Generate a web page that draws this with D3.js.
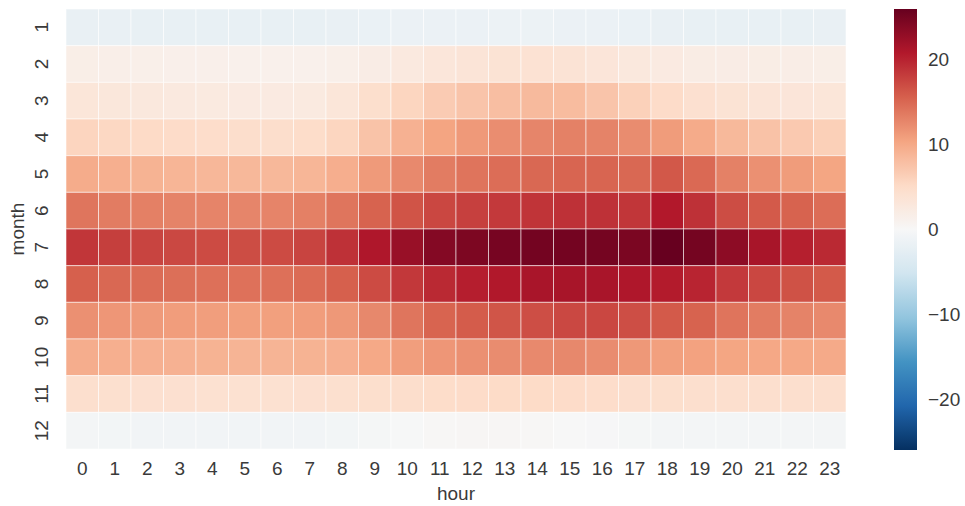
<!DOCTYPE html>
<html>
<head>
<meta charset="utf-8">
<script src="https://cdn.jsdelivr.net/npm/d3@7"></script>
<style>
  html, body { margin: 0; padding: 0; background: #fff; }
  text { font-family: "Liberation Sans", Arial, Helvetica, sans-serif; }
</style>
</head>
<body>
<svg id="chart" width="965" height="506"></svg>
<script>
// ---- data ----
const hours = [0,1,2,3,4,5,6,7,8,9,10,11,12,13,14,15,16,17,18,19,20,21,22,23];
const months = [1,2,3,4,5,6,7,8,9,10,11,12];
const m1  = [-1.9,-1.9,-2.0,-2.0,-2.0,-2.0,-2.0,-2.0,-1.9,-1.8,-1.7,-1.6,-1.6,-1.5,-1.5,-1.6,-1.7,-1.8,-1.9,-2.0,-2.0,-2.0,-2.0,-1.9];
const m2  = [1.7,1.6,1.5,1.4,1.4,1.3,1.3,1.3,1.5,2.0,2.6,3.1,3.5,3.8,3.9,3.7,3.3,2.8,2.4,2.1,2.0,1.9,1.8,1.7];
const m3  = [3.2,3.0,2.8,2.6,2.5,2.4,2.4,2.5,3.2,4.5,5.7,6.7,7.4,8.0,8.4,8.2,7.4,6.2,5.0,4.2,3.8,3.5,3.3,3.2];
const m4  = [5.8,5.5,5.2,5.0,4.8,4.7,4.7,4.9,5.7,7.5,9.2,10.4,11.3,12.2,12.8,13.1,13.0,12.3,11.1,9.8,8.5,7.6,6.9,6.3];
const m5  = [9.7,9.4,9.1,8.9,8.7,8.6,8.6,8.8,9.5,11.2,12.5,13.5,14.1,14.6,15.0,15.2,15.2,15.0,16.2,14.9,13.1,12.0,11.1,10.3];
const m6  = [14.0,13.5,13.2,13.0,12.9,12.8,12.9,13.2,14.0,15.4,16.5,17.4,17.9,18.4,18.8,19.0,19.0,18.6,20.8,19.0,17.0,16.0,15.4,14.6];
const m7  = [18.6,18.0,17.6,17.3,17.1,17.0,17.1,17.6,19.0,21.0,22.6,24.0,24.5,24.9,25.1,25.1,25.0,24.6,26.0,25.0,23.4,21.5,20.3,19.6];
const m8  = [15.6,15.0,14.7,14.5,14.4,14.3,14.4,14.8,15.6,17.1,18.5,19.6,20.4,20.9,21.4,21.5,21.4,21.0,20.6,19.9,18.4,17.4,16.6,16.0];
const m9  = [12.0,11.5,11.2,11.0,10.9,10.8,10.8,11.0,11.4,12.6,14.0,15.3,15.9,16.4,16.9,17.3,17.4,16.9,16.0,15.4,14.1,13.5,13.0,12.5];
const m10 = [9.6,9.4,9.3,9.2,9.1,9.0,9.0,9.1,9.3,10.0,10.9,11.5,12.0,12.3,12.5,12.6,12.3,11.4,10.8,10.6,10.3,10.1,10.0,9.9];
const m11 = [4.4,4.3,4.2,4.2,4.1,4.1,4.1,4.2,4.3,4.5,4.7,4.9,5.0,5.1,5.1,5.0,4.8,4.6,4.5,4.4,4.4,4.4,4.4,4.4];
const m12 = [-0.6,-0.7,-0.8,-0.8,-0.8,-0.8,-0.8,-0.8,-0.7,-0.4,-0.1,0.2,0.3,0.3,0.2,0.0,-0.2,-0.4,-0.5,-0.6,-0.6,-0.6,-0.6,-0.6];
const rows = [m1,m2,m3,m4,m5,m6,m7,m8,m9,m10,m11,m12];
const cbarTicks = [-20,-10,0,10,20];
// RdBu_r colours (ColorBrewer, low -> high)
const rdbuR = ["#053061","#2166ac","#4393c3","#92c5de","#d1e5f0","#f7f7f7","#fddbc7","#f4a582","#d6604d","#b2182b","#67001f"];

// ---- layout ----
const svg = d3.select("#chart");
const L = 66, R = 846, T = 9, B = 449;
const cbX = 894, cbW = 23, cbT = 9, cbB = 450;
const txt = "#3a3a3a", fs = 19;

const cells = [];
rows.forEach((r, i) => r.forEach((v, j) => cells.push({month: months[i], hour: hours[j], v})));

const vmax = d3.max(cells, d => Math.abs(d.v));
const cDomain = d3.range(rdbuR.length).map(k => -vmax + k * (2 * vmax) / (rdbuR.length - 1));
const color = d3.scaleLinear().domain(cDomain).range(rdbuR).interpolate(d3.interpolateRgb).clamp(true);

const x = d3.scaleBand().domain(hours).range([L, R]).padding(0);
const y = d3.scaleBand().domain(months).range([T, B]).padding(0);

svg.append("g").selectAll("rect").data(cells).join("rect")
  .attr("x", d => x(d.hour))
  .attr("y", d => y(d.month))
  .attr("width", x.bandwidth())
  .attr("height", y.bandwidth())
  .attr("fill", d => color(d.v))
  .attr("stroke", "rgba(255,255,255,0.55)")
  .attr("stroke-width", 1);

// x axis
const xa = svg.append("g").attr("transform", `translate(0,${B})`)
  .call(d3.axisBottom(x).tickSize(0).tickPadding(13));
xa.select(".domain").remove();
xa.selectAll("text").attr("font-size", fs).attr("fill", txt)
  .attr("font-family", "Liberation Sans, Arial, sans-serif");

// y axis (rotated labels)
const ya = svg.append("g").attr("transform", `translate(${L},0)`)
  .call(d3.axisLeft(y).tickSize(0).tickPadding(0));
ya.select(".domain").remove();
ya.selectAll(".tick text")
  .attr("x", null).attr("dy", null)
  .attr("text-anchor", "middle")
  .attr("transform", "translate(-18,0) rotate(-90)")
  .attr("font-size", fs).attr("fill", txt)
  .attr("font-family", "Liberation Sans, Arial, sans-serif");

// axis titles
svg.append("text").attr("x", (L + R) / 2).attr("y", 500)
  .attr("text-anchor", "middle").attr("font-size", fs).attr("fill", txt).text("hour");
svg.append("text").attr("transform", `translate(24,${(T + B) / 2}) rotate(-90)`)
  .attr("text-anchor", "middle").attr("font-size", fs).attr("fill", txt).text("month");

// colorbar
const cy = d3.scaleLinear().domain([-vmax, vmax]).range([cbB, cbT]);
const defs = svg.append("defs");
const grad = defs.append("linearGradient").attr("id", "cbgrad")
  .attr("x1", "0").attr("y1", "1").attr("x2", "0").attr("y2", "0");
d3.range(0, 1.0001, 0.02).forEach(t => {
  grad.append("stop").attr("offset", t).attr("stop-color", color(-vmax + t * 2 * vmax));
});
svg.append("rect").attr("x", cbX).attr("y", cbT).attr("width", cbW).attr("height", cbB - cbT)
  .attr("fill", "url(#cbgrad)");
const ca = svg.append("g").attr("transform", `translate(${cbX + cbW},0)`)
  .call(d3.axisRight(cy).tickValues(cbarTicks).tickSize(0).tickPadding(11).tickFormat(d3.format("d")));
ca.select(".domain").remove();
ca.selectAll("text").attr("font-size", fs).attr("fill", txt)
  .attr("font-family", "Liberation Sans, Arial, sans-serif");
</script>
</body>
</html>
